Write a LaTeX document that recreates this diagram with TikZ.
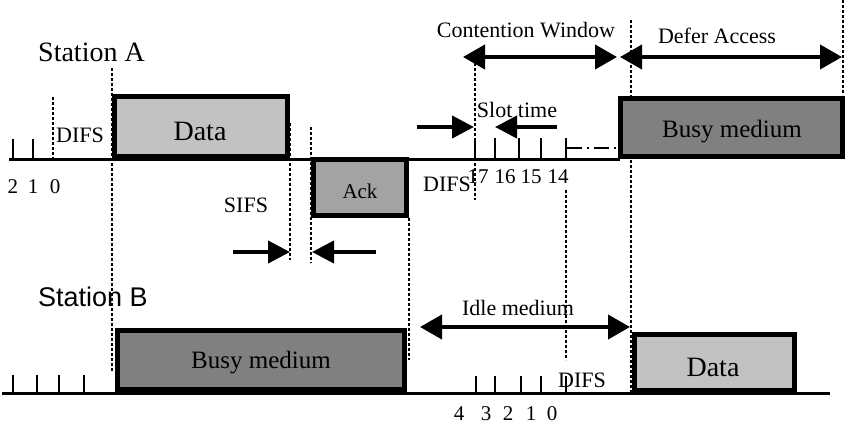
\documentclass[tikz,border=0pt]{standalone}
\usepackage{fontspec}
\setmainfont{Liberation Serif}
\newfontfamily\stbfont{Liberation Sans}
\usetikzlibrary{arrows.meta}
\begin{document}
\begin{tikzpicture}[x=1pt,y=-1pt,
  axis/.style={line width=3pt},
  tick/.style={line width=2pt},
  guide/.style={line width=1.2pt,dash pattern=on 3pt off 2pt},
  frame/.style={line width=5pt,draw=black},
  lightbox/.style={frame,fill=black!24},
  midbox/.style={frame,fill=black!36},
  darkbox/.style={frame,fill=black!50},
  arr/.style={line width=4pt,-{Triangle[length=22pt,width=22pt]}},
  darr/.style={line width=4pt,{Triangle[length=22pt,width=24pt]}-{Triangle[length=22pt,width=24pt]}},
  lab/.style={inner sep=0pt,anchor=base,font=\fontsize{22}{24}\selectfont},
  num/.style={inner sep=0pt,anchor=base,font=\fontsize{21}{23}\selectfont},
  big/.style={inner sep=0pt,anchor=base,font=\fontsize{25}{27}\selectfont},
  huge/.style={inner sep=0pt,anchor=base,font=\fontsize{28}{30}\selectfont}]
\useasboundingbox (0,0) rectangle (850,423);

% ---- dashed guide lines
\draw[guide] (53,97) -- (53,159);
\draw[guide] (112,68) -- (112,372);
\draw[guide] (290,123) -- (290,260);
\draw[guide] (311,127) -- (311,263);
\draw[guide] (409,218) -- (409,360);
\draw[guide] (475,63) -- (475,200);
\draw[guide] (566,190) -- (566,360);
\draw[guide] (631,20) -- (631,392);
\draw[guide] (843,0) -- (843,95);

% ---- axes
\draw[axis] (9,159) -- (620,159);
\draw[axis] (2,393) -- (830,393);

% ---- ticks
\foreach \x in {13,33} \draw[tick] (\x,139) -- (\x,159);
\foreach \x in {475,495,519,541,566} \draw[tick] (\x,138) -- (\x,159);
\foreach \x in {13,37,59,84} \draw[tick] (\x,375) -- (\x,393);
\foreach \x in {476,495,521,541,566} \draw[tick] (\x,376) -- (\x,393);

% ---- dash-dot continuation
\draw[line width=2pt,dash pattern=on 15pt off 5pt on 2pt off 5pt] (567,148) -- (618,148);

% ---- boxes
\draw[lightbox] (114.5,96.5) rectangle (287.5,156.5);
\draw[midbox] (313.5,159.5) rectangle (406.5,215.5);
\draw[darkbox] (620.5,98.5) rectangle (842.5,156.5);
\draw[darkbox] (117.5,330.5) rectangle (404.5,389.5);
\draw[lightbox] (634.5,334.5) rectangle (794.5,390.5);

% ---- texts
\node[inner sep=0pt,anchor=base west,font=\fontsize{28}{30}\selectfont] (stA) at (38,61) {Station A};
\node[inner sep=0pt,anchor=base west,font=\stbfont\fontsize{27}{29}\selectfont] (stB) at (38,306) {Station B};
\node[lab] (difsA) at (80,142) {DIFS};
\node[num] (n2) at (13,193) {2};
\node[num] (n1) at (33,193) {1};
\node[num] (n0) at (55,193) {0};
\node[huge] (dataA) at (200,140) {Data};
\node[lab] (sifs) at (246,212) {SIFS};
\node[num] (ack) at (360,198) {Ack};
\node[big] (busyB) at (261,368) {Busy medium};
\node[lab] (idle) at (518,315) {Idle medium};
\node[lab] (difsB) at (582,387) {DIFS};
\node[huge] (dataB) at (713,376) {Data};
\node[num] (m4) at (459,420) {4};
\node[num] (m3) at (486,420) {3};
\node[num] (m2) at (508,420) {2};
\node[num] (m1) at (531,420) {1};
\node[num] (m0) at (552,420) {0};
\node[lab] (cw) at (526,37) {Contention Window};
\node[lab] (defer) at (717,43) {Defer Access};
\node[lab] (slot) at (517,117) {Slot time};
\node[big] (busyA) at (732,137) {Busy medium};
\node[lab] (difsA2) at (447,191) {DIFS};
\node[num] (k17) at (478,183) {17};
\node[num] (k16) at (505,183) {16};
\node[num] (k15) at (531,183) {15};
\node[num] (k14) at (558,183) {14};

% ---- arrows
\coordinate (s1a) at (233,252); \coordinate (s1b) at (290,252);
\coordinate (s2a) at (376,252); \coordinate (s2b) at (312,252);
\draw[arr] (s1a) -- (s1b);
\draw[arr] (s2a) -- (s2b);
\coordinate (t1a) at (417,127); \coordinate (t1b) at (474,127);
\coordinate (t2a) at (557,127); \coordinate (t2b) at (495,127);
\draw[arr] (t1a) -- (t1b);
\draw[arr] (t2a) -- (t2b);
\coordinate (cwa) at (463,57); \coordinate (cwb) at (617,57);
\draw[darr] (cwa) -- (cwb);
\coordinate (dfa) at (620,57); \coordinate (dfb) at (842,57);
\draw[darr] (dfa) -- (dfb);
\coordinate (ima) at (420,327); \coordinate (imb) at (630,327);
\draw[darr] (ima) -- (imb);
\end{tikzpicture}
\end{document}
